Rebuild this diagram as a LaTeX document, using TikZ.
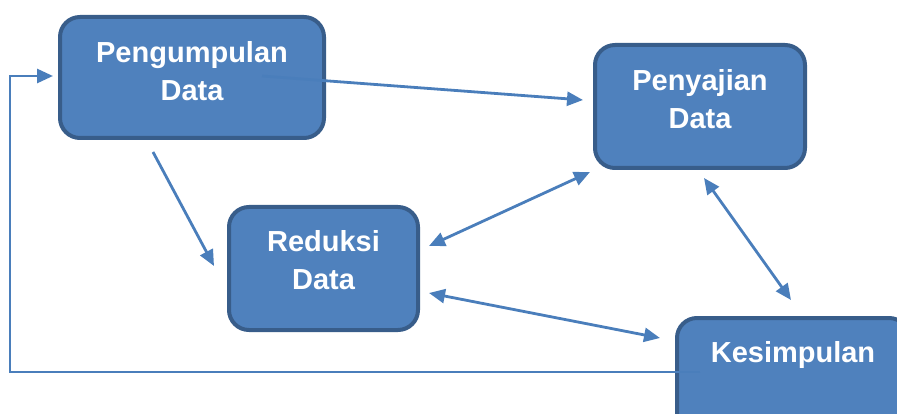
\documentclass[tikz,border=0pt]{standalone}
\usepackage{fontspec}
\setmainfont{Liberation Sans}
\usetikzlibrary{arrows.meta}
\definecolor{boxfill}{HTML}{4F81BD}
\definecolor{boxline}{HTML}{385D8A}
\definecolor{conn}{HTML}{4A7EBB}
\tikzset{
  stagebox/.style={draw=boxline, line width=4pt, fill=boxfill, rounded corners=20pt, inner sep=0pt},
  stagetext/.style={text=white, font=\fontsize{29}{38}\selectfont\bfseries, align=center, inner sep=0pt},
  conline/.style={draw=conn, line width=2.8pt},
  tip/.style={-{Triangle[length=16pt,width=14pt]}},
  bitip/.style={{Triangle[length=16pt,width=14pt]}-{Triangle[length=16pt,width=14pt]}}
}
\begin{document}
\begin{tikzpicture}[x=1pt,y=-1pt]
\useasboundingbox (0,0) rectangle (897,414);
\clip (0,0) rectangle (897,414);
% boxes
\node[stagebox, minimum width=264pt, minimum height=121pt] (pd) at (192,77.5) {};
\node[stagebox, minimum width=210pt, minimum height=123pt] (sd) at (700,106.5) {};
\node[stagebox, minimum width=189pt, minimum height=123pt] (rd) at (323.5,268.5) {};
\node[stagebox, minimum width=232pt, minimum height=123pt] (ks) at (793,379.5) {};
% texts
\node[stagetext] (pdt) at (192,71) {Pengumpulan\\Data};
\node[stagetext] (sdt) at (700,99) {Penyajian\\Data};
\node[stagetext] (rdt) at (323.5,260) {Reduksi\\Data};
\node[stagetext, anchor=base] (kst) at (793,362) {Kesimpulan};
% connector end points
\coordinate (a1s) at (262,76);
\coordinate (a1e) at (583,100);
\coordinate (a2s) at (153,152);
\coordinate (a2e) at (214,266);
\coordinate (a3s) at (429,246);
\coordinate (a3e) at (590,172);
\coordinate (a4s) at (429,293);
\coordinate (a4e) at (660,338);
\coordinate (a5s) at (704,178);
\coordinate (a5e) at (791,300);
\coordinate (fbs) at (700,372);
\coordinate (fb1) at (10,372);
\coordinate (fb2) at (10,76);
\coordinate (fbe) at (53,76);
% connectors
\draw[conline, tip] (a1s) -- (a1e);
\draw[conline, tip] (a2s) -- (a2e);
\draw[conline, bitip] (a3s) -- (a3e);
\draw[conline, bitip] (a4s) -- (a4e);
\draw[conline, bitip] (a5s) -- (a5e);
\draw[conline, tip] (fbs) -- (fb1) -- (fb2) -- (fbe);
\end{tikzpicture}
\end{document}
